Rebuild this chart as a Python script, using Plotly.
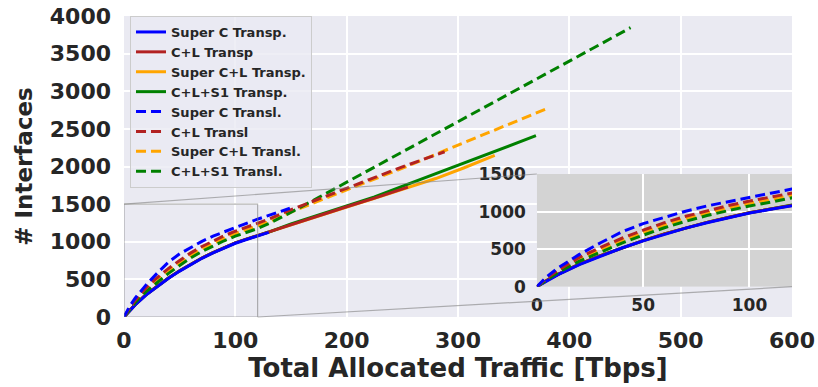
import plotly.graph_objects as go

# ---- data: number of interfaces vs. total allocated traffic [Tbps] ----
super_c_transp_x = [0, 5, 10, 20, 30, 40, 50, 60, 70, 80, 90, 100, 110, 120, 130]
super_c_transp_y = [0, 85, 160, 295, 410, 515, 610, 700, 780, 852, 918, 980, 1030, 1078, 1125]

c_l_transp_x = [0, 5, 10, 20, 30, 40, 50, 60, 70, 80, 90, 100, 110, 120, 130,
                150, 175, 200, 225, 255]
c_l_transp_y = [0, 89, 164, 299, 414, 519, 614, 704, 784, 856, 922, 984, 1034, 1082, 1129,
                1235, 1350, 1465, 1580, 1725]

super_cl_transp_x = [0, 5, 10, 20, 30, 40, 50, 60, 70, 80, 90, 100, 110, 120, 130,
                     150, 175, 200, 225, 255, 280, 305, 333]
super_cl_transp_y = [0, 89, 164, 299, 414, 519, 614, 704, 784, 856, 922, 984, 1034, 1082, 1129,
                     1232, 1347, 1462, 1577, 1715, 1840, 1980, 2147]

c_l_s1_transp_x = [0, 5, 10, 20, 30, 40, 50, 60, 70, 80, 90, 100, 110, 120, 130,
                   150, 175, 200, 225, 248, 275, 300, 333, 370]
c_l_s1_transp_y = [0, 89, 164, 299, 414, 519, 614, 704, 784, 856, 922, 984, 1034, 1082, 1129,
                   1237, 1353, 1470, 1595, 1725, 1875, 2012, 2197, 2409]

super_c_transl_x = [0, 5, 10, 20, 30, 40, 50, 60, 70, 80, 90, 100, 110, 120, 130, 140, 149]
super_c_transl_y = [0, 140, 250, 430, 585, 730, 840, 925, 1005, 1075, 1135, 1190, 1245, 1300,
                    1350, 1400, 1445]

c_l_transl_x = [0, 5, 10, 20, 30, 40, 50, 60, 70, 80, 90, 100, 110, 120, 130,
                149, 175, 200, 250, 288]
c_l_transl_y = [0, 120, 220, 390, 525, 645, 752, 852, 937, 1013, 1080, 1140, 1190, 1240, 1300,
                1420, 1570, 1712, 1995, 2196]

super_cl_transl_x = [0, 5, 10, 20, 30, 40, 50, 60, 70, 80, 90, 100, 110, 120, 130, 140, 150,
                     200, 248, 300, 340, 380]
super_cl_transl_y = [0, 110, 205, 365, 495, 615, 720, 820, 905, 982, 1048, 1110, 1160, 1210,
                     1265, 1330, 1395, 1690, 1965, 2285, 2530, 2769]

c_l_s1_transl_x = [0, 5, 10, 20, 30, 40, 50, 60, 70, 80, 90, 100, 110, 120, 130, 146,
                   175, 200, 248, 300, 350, 400, 455]
c_l_s1_transl_y = [0, 100, 190, 340, 465, 580, 685, 785, 870, 947, 1013, 1075, 1125, 1175,
                   1240, 1360, 1590, 1790, 2178, 2595, 2995, 3400, 3845]

x_ticks = [0, 100, 200, 300, 400, 500, 600]
y_ticks = [0, 500, 1000, 1500, 2000, 2500, 3000, 3500, 4000]
inset_x_ticks = [0, 50, 100]
inset_y_ticks = [0, 500, 1000, 1500]

MAIN_X = [0, 600]
MAIN_Y = [0, 4000]
ZOOM_X = [0, 120]
ZOOM_Y = [0, 1500]

BLUE, RED, ORANGE, GREEN = "#0000ff", "#b22222", "#ffa500", "#008000"
TEXT = "#262626"
FONT = "DejaVu Sans"
DASH = "10px,5px"

# (name, x, y, colour, dash, legend rank); listed bottom-to-top in drawing order
series = [
    ("Super C+L Transp.", super_cl_transp_x, super_cl_transp_y, ORANGE, "solid", 3),
    ("C+L+S1 Transp.", c_l_s1_transp_x, c_l_s1_transp_y, GREEN, "solid", 4),
    ("C+L Transp", c_l_transp_x, c_l_transp_y, RED, "solid", 2),
    ("Super C Transp.", super_c_transp_x, super_c_transp_y, BLUE, "solid", 1),
    ("Super C+L Transl.", super_cl_transl_x, super_cl_transl_y, ORANGE, DASH, 7),
    ("C+L+S1 Transl.", c_l_s1_transl_x, c_l_s1_transl_y, GREEN, DASH, 8),
    ("C+L Transl", c_l_transl_x, c_l_transl_y, RED, DASH, 6),
    ("Super C Transl.", super_c_transl_x, super_c_transl_y, BLUE, DASH, 5),
]

fig = go.Figure()
for name, xs, ys, col, dash, rank in series:
    fig.add_trace(go.Scatter(
        x=xs, y=ys, mode="lines", name=name, legendrank=rank,
        line=dict(color=col, width=3, dash=dash),
        xaxis="x", yaxis="y",
    ))
for name, xs, ys, col, dash, rank in series:
    fig.add_trace(go.Scatter(
        x=xs, y=ys, mode="lines", name=name, showlegend=False,
        line=dict(color=col, width=3, dash=dash),
        xaxis="x2", yaxis="y2",
    ))

# inset placement (paper coordinates)
INSET_DX = [0.618, 1.0]
INSET_DY = [0.1007, 0.475]

tick_font = dict(family=FONT, size=22, color=TEXT, weight="bold")
inset_tick_font = dict(family=FONT, size=17, color=TEXT, weight="bold")

fig.update_layout(
    width=818, height=387,
    margin=dict(l=124, r=26, t=16, b=70, autoexpand=False),
    paper_bgcolor="white",
    plot_bgcolor="#eaeaf2",
    font=dict(family=FONT, color=TEXT),
    showlegend=True,
    legend=dict(
        x=0.009, y=1.0, xanchor="left", yanchor="top",
        bgcolor="rgba(234,234,242,0.8)", bordercolor="#cccccc", borderwidth=1,
        font=dict(family=FONT, size=13, color=TEXT, weight="bold"),
        itemwidth=30, tracegroupgap=0,
    ),
    xaxis=dict(
        domain=[0, 1], range=MAIN_X, tickvals=x_ticks, ticks="", automargin=False,
        showgrid=True, gridcolor="white", gridwidth=1.5, zeroline=False,
        showline=False, tickfont=tick_font, ticklabelstandoff=8,
        title=dict(text="Total Allocated Traffic [Tbps]", standoff=4,
                   font=dict(family=FONT, size=26, color=TEXT, weight="bold")),
    ),
    yaxis=dict(
        domain=[0, 1], range=MAIN_Y, tickvals=y_ticks, ticks="", automargin=False,
        showgrid=True, gridcolor="white", gridwidth=1.5, zeroline=False,
        showline=False, tickfont=tick_font, ticklabelstandoff=12,
        title=dict(text="# Interfaces", standoff=10,
                   font=dict(family=FONT, size=23, color=TEXT, weight="bold")),
    ),
    xaxis2=dict(
        domain=INSET_DX, anchor="y2", range=ZOOM_X, tickvals=inset_x_ticks, ticks="",
        automargin=False,
        showgrid=True, gridcolor="white", gridwidth=1.5, zeroline=False,
        showline=False, tickfont=inset_tick_font, ticklabelstandoff=6,
    ),
    yaxis2=dict(
        domain=INSET_DY, anchor="x2", range=ZOOM_Y, tickvals=inset_y_ticks, ticks="",
        automargin=False,
        showgrid=True, gridcolor="white", gridwidth=1.5, zeroline=False,
        showline=False, tickfont=inset_tick_font, ticklabelstandoff=10,
    ),
)

# inset background: a rect in the inset's own data space, under its grid
fig.add_shape(type="rect", xref="x2", yref="y2",
              x0=ZOOM_X[0], x1=ZOOM_X[1], y0=ZOOM_Y[0], y1=ZOOM_Y[1],
              fillcolor="#d3d3d3", line=dict(width=0), layer="below")

# zoom region marker in the main axes
edge = dict(color="rgba(128,128,128,0.6)", width=1.2)
fig.add_shape(type="rect", xref="x", yref="y",
              x0=ZOOM_X[0], x1=ZOOM_X[1], y0=ZOOM_Y[0], y1=ZOOM_Y[1],
              line=edge, fillcolor="rgba(0,0,0,0)")


def to_paper_x(v):
    return (v - MAIN_X[0]) / (MAIN_X[1] - MAIN_X[0])


def to_paper_y(v):
    return (v - MAIN_Y[0]) / (MAIN_Y[1] - MAIN_Y[0])


# connectors: upper-left and lower-right corners
fig.add_shape(type="line", xref="paper", yref="paper",
              x0=to_paper_x(ZOOM_X[0]), y0=to_paper_y(ZOOM_Y[1]),
              x1=INSET_DX[0], y1=INSET_DY[1], line=edge)
fig.add_shape(type="line", xref="paper", yref="paper",
              x0=to_paper_x(ZOOM_X[1]), y0=to_paper_y(ZOOM_Y[0]),
              x1=INSET_DX[1], y1=INSET_DY[0], line=edge)

fig.write_html("out.html")
